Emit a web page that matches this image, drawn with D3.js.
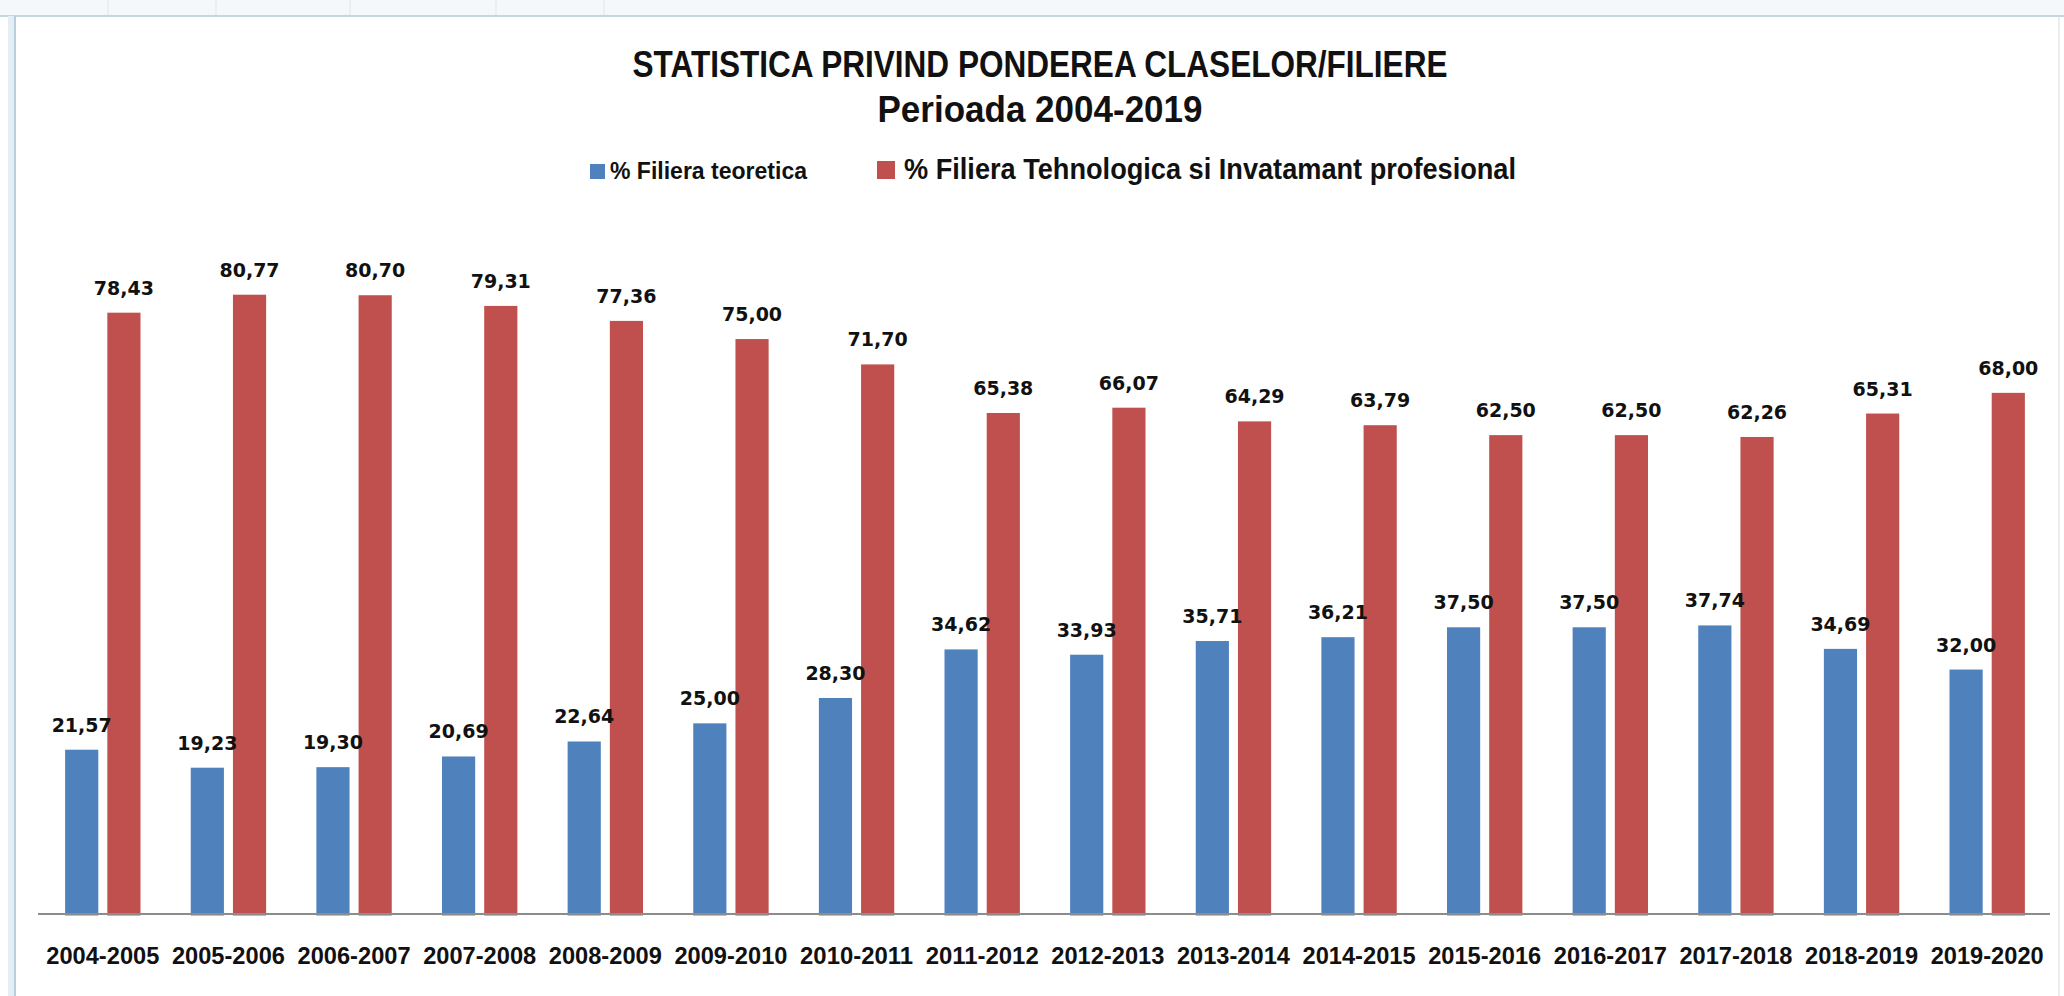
<!DOCTYPE html>
<html>
<head>
<meta charset="utf-8">
<script src="https://cdn.jsdelivr.net/npm/d3@7"></script>
<style>
  html, body { margin: 0; padding: 0; background: #ffffff; }
  svg { display: block; }
</style>
</head>
<body>
<svg id="chart" width="2064" height="996"></svg>
<script>
const categories = ["2004-2005","2005-2006","2006-2007","2007-2008","2008-2009","2009-2010","2010-2011","2011-2012","2012-2013","2013-2014","2014-2015","2015-2016","2016-2017","2017-2018","2018-2019","2019-2020"];
const seriesNames = ["% Filiera teoretica", "% Filiera Tehnologica si Invatamant profesional"];
const teoretica   = [21.57,19.23,19.30,20.69,22.64,25.00,28.30,34.62,33.93,35.71,36.21,37.50,37.50,37.74,34.69,32.00];
const tehnologica = [78.43,80.77,80.70,79.31,77.36,75.00,71.70,65.38,66.07,64.29,63.79,62.50,62.50,62.26,65.31,68.00];
const titleLines = ["STATISTICA PRIVIND PONDEREA CLASELOR/FILIERE", "Perioada 2004-2019"];

const colors = ["#4F81BD", "#C0504D"];
const svg = d3.select("#chart");

// window frame (spreadsheet border)
svg.append("rect").attr("x",0).attr("y",0).attr("width",2064).attr("height",15).attr("fill","#f5f8fa");
[108,216,350,496,604].forEach(x => svg.append("line").attr("x1",x).attr("x2",x).attr("y1",0).attr("y2",15).attr("stroke","#dde5ea"));
svg.append("line").attr("x1",0).attr("x2",2064).attr("y1",16).attr("y2",16).attr("stroke","#b3c8d4").attr("stroke-width",1.5);
svg.append("rect").attr("x",8).attr("y",16).attr("width",7).attr("height",980).attr("fill","#e4eff5");
svg.append("line").attr("x1",15).attr("x2",15).attr("y1",16).attr("y2",996).attr("stroke","#a9c1cf").attr("stroke-width",1.5);
svg.append("line").attr("x1",2059).attr("x2",2059).attr("y1",16).attr("y2",996).attr("stroke","#d3dde3").attr("stroke-width",1);

const data = categories.map((c, i) => ({ cat: c, values: [teoretica[i], tehnologica[i]] }));

const x0 = d3.scaleBand().domain(categories).range([40, 2050]);
const x1 = d3.scaleBand().domain([0, 1])
  .range([x0.bandwidth() * 0.2, x0.bandwidth() * 0.8])
  .paddingInner(0.214);
const y = d3.scaleLinear().domain([0, 100]).range([915.5, 146.9]);

const locale = d3.formatLocale({ decimal: ",", thousands: ".", grouping: [3], currency: ["", ""] });
const fmt = locale.format(".2f");

const groups = svg.append("g").selectAll("g").data(data).join("g")
  .attr("transform", d => `translate(${x0(d.cat)},0)`);

groups.selectAll("rect").data(d => d.values.map((v, k) => ({ v, k }))).join("rect")
  .attr("x", d => x1(d.k))
  .attr("width", x1.bandwidth())
  .attr("y", d => y(d.v))
  .attr("height", d => y(0) - y(d.v))
  .attr("fill", d => colors[d.k]);

groups.selectAll("text").data(d => d.values.map((v, k) => ({ v, k }))).join("text")
  .attr("x", d => x1(d.k) + x1.bandwidth() / 2)
  .attr("y", d => y(d.v) - 18)
  .attr("text-anchor", "middle")
  .attr("font-family", "DejaVu Sans, Verdana, sans-serif")
  .attr("font-weight", "bold")
  .attr("font-size", 19)
  .attr("fill", "#111")
  .text(d => fmt(d.v));

// x axis
const axisG = svg.append("g").attr("transform", "translate(0,914)")
  .call(d3.axisBottom(x0).tickSize(0).tickSizeOuter(0));
axisG.select(".domain").attr("stroke", "#8c8c8c").attr("stroke-width", 2)
  .attr("d", "M38,0H2050");
axisG.selectAll(".tick text")
  .attr("y", 50).attr("dy", 0)
  .attr("font-family", "Liberation Sans, Arial, sans-serif")
  .attr("font-weight", "bold")
  .attr("font-size", 23)
  .attr("fill", "#111")
  .attr("textLength", 113)
  .attr("lengthAdjust", "spacingAndGlyphs");

// title
const titleSpecs = [{ y: 77, len: 815 }, { y: 122, len: 325 }];
svg.append("g").selectAll("text").data(titleLines).join("text")
  .attr("x", 1040)
  .attr("y", (d, i) => titleSpecs[i].y)
  .attr("text-anchor", "middle")
  .attr("font-family", "Liberation Sans, Arial, sans-serif")
  .attr("font-weight", "bold")
  .attr("font-size", 37)
  .attr("fill", "#111")
  .attr("textLength", (d, i) => titleSpecs[i].len)
  .attr("lengthAdjust", "spacingAndGlyphs")
  .text(d => d);

// legend
const legendSpecs = [
  { sx: 590, sy: 164, s: 15, tx: 610, size: 23, len: 197 },
  { sx: 877, sy: 161, s: 18, tx: 904, size: 30, len: 612 }
];
const lg = svg.append("g").selectAll("g").data(seriesNames).join("g");
lg.append("rect")
  .attr("x", (d, i) => legendSpecs[i].sx)
  .attr("y", (d, i) => legendSpecs[i].sy)
  .attr("width", (d, i) => legendSpecs[i].s)
  .attr("height", (d, i) => legendSpecs[i].s)
  .attr("fill", (d, i) => colors[i]);
lg.append("text")
  .attr("x", (d, i) => legendSpecs[i].tx)
  .attr("y", 179)
  .attr("font-family", "Liberation Sans, Arial, sans-serif")
  .attr("font-weight", "bold")
  .attr("font-size", (d, i) => legendSpecs[i].size)
  .attr("fill", "#111")
  .attr("textLength", (d, i) => legendSpecs[i].len)
  .attr("lengthAdjust", "spacingAndGlyphs")
  .text(d => d);
</script>
</body>
</html>
